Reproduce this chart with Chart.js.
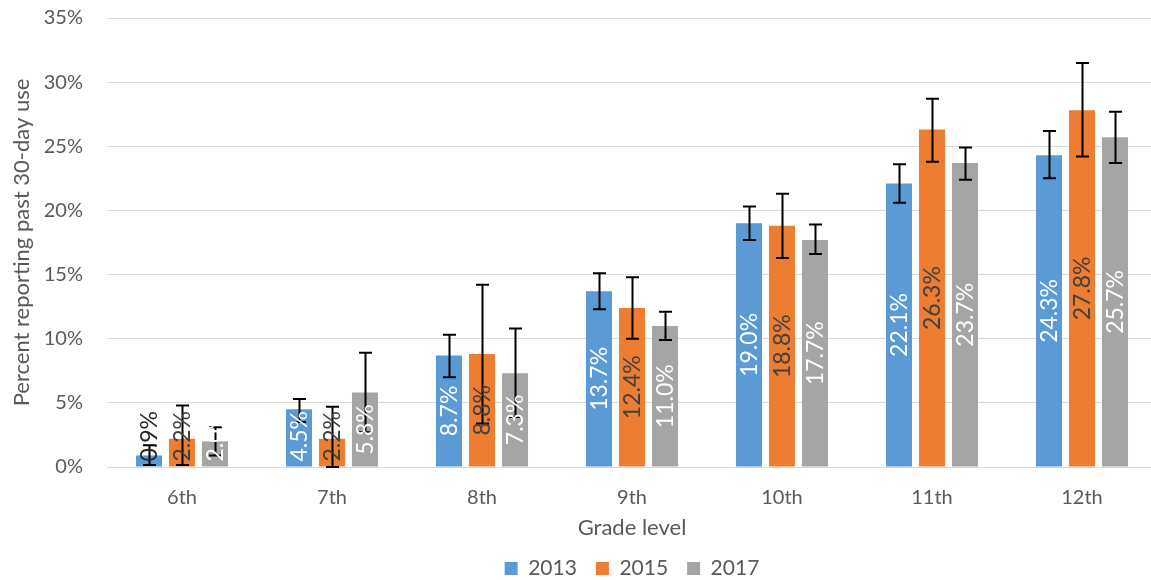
<!DOCTYPE html>
<html>
<head>
<meta charset="utf-8">
<script src="https://cdn.jsdelivr.net/npm/chart.js@4.4.1/dist/chart.umd.min.js"></script>
<style>
html,body{margin:0;padding:0;background:#fff;overflow:hidden;width:1151px;height:580px;}
#wrap{width:1160px;height:598px;position:absolute;left:0;top:-18px;}
</style>
</head>
<body>
<div id="wrap"><canvas id="c" width="1160" height="598"></canvas></div>
<script>
const categories = ['6th','7th','8th','9th','10th','11th','12th'];
const seriesNames = ['2013','2015','2017'];
const values2013 = [0.9, 4.5, 8.7, 13.7, 19.0, 22.1, 24.3];
const values2015 = [2.2, 2.2, 8.8, 12.4, 18.8, 26.3, 27.8];
const values2017 = [2.0, 5.8, 7.3, 11.0, 17.7, 23.7, 25.7];
const low2013  = [0.15, 3.5, 7.0, 12.3, 17.7, 20.6, 22.5];
const high2013 = [1.7, 5.3, 10.3, 15.1, 20.3, 23.6, 26.2];
const low2015  = [0.15, 0.0, 3.4, 10.0, 16.3, 23.8, 24.2];
const high2015 = [4.8, 4.7, 14.2, 14.8, 21.3, 28.7, 31.5];
const low2017  = [0.9, 2.7, 3.9, 9.9, 16.6, 22.4, 23.7];
const high2017 = [3.1, 8.9, 10.8, 12.1, 18.9, 24.9, 27.7];
const yTicks = [0,5,10,15,20,25,30,35];
const labelColors2013 = ['#262626','#fff','#fff','#fff','#fff','#fff','#fff'];
const labelColors2015 = ['#404040','#404040','#404040','#404040','#404040','#404040','#404040'];
const labelColors2017 = ['#fff','#fff','#fff','#fff','#fff','#fff','#fff'];

const FONT = 'Lato, "Open Sans", sans-serif';
const TXT = '#595959';

const errorBars = [
  {low: low2013, high: high2013},
  {low: low2015, high: high2015},
  {low: low2017, high: high2017}
];
const labelColors = [labelColors2013, labelColors2015, labelColors2017];

const errorPlugin = {
  id: 'errAndLabels',
  afterDatasetsDraw(chart) {
    const ctx = chart.ctx;
    const ys = chart.scales.y;
    ctx.save();
    chart.data.datasets.forEach((ds, di) => {
      const meta = chart.getDatasetMeta(di);
      meta.data.forEach((bar, i) => {
        const x = Math.round(bar.x) + 0.5;
        const yt = ys.getPixelForValue(errorBars[di].high[i]);
        const yb = ys.getPixelForValue(errorBars[di].low[i]);
        ctx.strokeStyle = '#000';
        ctx.lineWidth = 2;
        ctx.beginPath();
        ctx.moveTo(x, yt); ctx.lineTo(x, yb);
        ctx.moveTo(x - 6.5, yt); ctx.lineTo(x + 6.5, yt);
        ctx.moveTo(x - 6.5, yb); ctx.lineTo(x + 6.5, yb);
        ctx.stroke();
      });
    });
    ctx.font = '23px ' + FONT;
    ctx.textBaseline = 'middle';
    ctx.textAlign = 'center';
    chart.data.datasets.forEach((ds, di) => {
      const meta = chart.getDatasetMeta(di);
      meta.data.forEach((bar, i) => {
        const txt = ds.data[i].toFixed(1) + '%';
        const w = ctx.measureText(txt).width;
        const base = bar.base;
        let cy = (bar.y + base) / 2;
        if (cy + w / 2 > base - 5) cy = base - 5 - w / 2;
        ctx.save();
        ctx.translate(bar.x, cy);
        ctx.rotate(-Math.PI / 2);
        ctx.fillStyle = labelColors[di][i];
        ctx.fillText(txt, 0, 1);
        ctx.restore();
      });
    });
    ctx.restore();
  }
};

new Chart(document.getElementById('c'), {
  type: 'bar',
  data: {
    labels: categories,
    datasets: [
      {label: seriesNames[0], data: values2013, backgroundColor: '#5B9BD5'},
      {label: seriesNames[1], data: values2015, backgroundColor: '#ED7D31'},
      {label: seriesNames[2], data: values2017, backgroundColor: '#A5A5A5'}
    ]
  },
  options: {
    responsive: false,
    animation: false,
    layout: {padding: {top: 0, right: 3, left: 0, bottom: -9}},
    datasets: {bar: {categoryPercentage: 0.66, barPercentage: 0.79}},
    plugins: {
      legend: {
        position: 'bottom',
        fullSize: false,
        labels: {
          font: {family: FONT, size: 21},
          color: TXT,
          boxWidth: 13, boxHeight: 13,
          padding: 19
        }
      },
      tooltip: {enabled: false}
    },
    scales: {
      x: {
        grid: {display: false},
        border: {color: '#d9d9d9', width: 1},
        ticks: {font: {family: FONT, size: 20}, color: TXT, padding: 11},
        title: {display: true, text: 'Grade level', font: {family: FONT, size: 22}, color: TXT, padding: {top: 0, bottom: -2}},
        afterFit(s) { s.height = 72; }
      },
      y: {
        min: 0, max: 35,
        afterBuildTicks(s) { s.ticks = yTicks.map(v => ({value: v})); },
        grid: {color: '#d9d9d9', lineWidth: 1, drawTicks: false},
        border: {display: false},
        ticks: {font: {family: FONT, size: 20}, color: TXT, padding: 24, callback: v => v + '%'},
        title: {display: true, text: 'Percent reporting past 30-day use', font: {family: FONT, size: 22}, color: TXT, padding: {top: 9, bottom: 0}},
        afterFit(s) { s.width = 107; }
      }
    }
  },
  plugins: [errorPlugin]
});
</script>
</body>
</html>
